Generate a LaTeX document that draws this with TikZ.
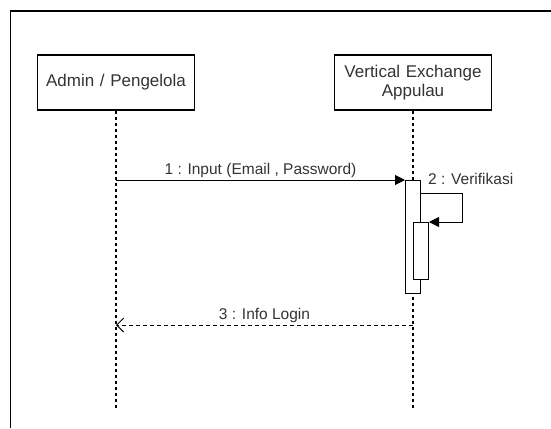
\documentclass[tikz,border=0pt]{standalone}
\usepackage{fontspec}
\setmainfont{Liberation Sans}
\usetikzlibrary{positioning,arrows.meta}
\tikzstyle{actor} = [draw, rectangle, line width=1.2pt, minimum width=156pt, minimum height=55pt, text width=150pt, align=center, text=black!80, font=\fontsize{17}{19}\selectfont]
\tikzstyle{activation} = [draw, rectangle, fill=white, line width=1pt, minimum width=15pt, inner sep=0pt]
\tikzstyle{lifeline} = [draw, line width=1.2pt, dash pattern=on 3pt off 3pt]
\tikzstyle{call} = [draw, line width=1pt, -{Triangle[length=10pt,width=10pt]}]
\tikzstyle{reply} = [draw, line width=1pt, dash pattern=on 4pt off 3pt, -{Straight Barb[length=7pt,width=14pt,line width=1pt]}]
\tikzstyle{msg} = [text=black!80, inner sep=2pt, font=\fontsize{15.5}{17}\selectfont]

\begin{document}
\begin{tikzpicture}[x=1pt, y=-1pt]
    \useasboundingbox (0,0) rectangle (551,428);
    % Frame
    \draw [line width=1.5pt] (10.5,428) -- (10.5,11) -- (551,11);
    % Place nodes
    \node [actor] (admin) at (116,82.5) {Admin / Pengelola};
    \node [actor] (vex) at (413,82.5) {Vertical Exchange\\Appulau};
    \coordinate (admin-end) at (admin.south |- 0,408);
    \coordinate (vex-end) at (vex.south |- 0,408);
    % Lifelines
    \path [lifeline] (admin.south) -- (admin-end);
    \path [lifeline] (vex.south) -- (vex-end);
    % Activations
    \node [activation, minimum height=113pt, anchor=north] (act1) at (vex.south |- 0,180) {};
    \node [activation, minimum height=57pt, anchor=north west] (act2) at (act1.north |- 0,222) {};
    % Draw edges
    \path [call] (admin.south |- act1.north) -- node [msg, above] (lbl1) {1 : Input (Email , Password)} (act1.north west);
    \path [call] (act1.east |- 0,193) -- ++(41,0) |- (act2.north east);
    \node [msg, anchor=base west] (lbl2) at (426,184) {2 : Verifikasi};
    \path [reply] (vex-end |- 0,325) -- node [msg, above] (lbl3) {3 : Info Login} (admin-end |- 0,325);
\end{tikzpicture}
\end{document}
